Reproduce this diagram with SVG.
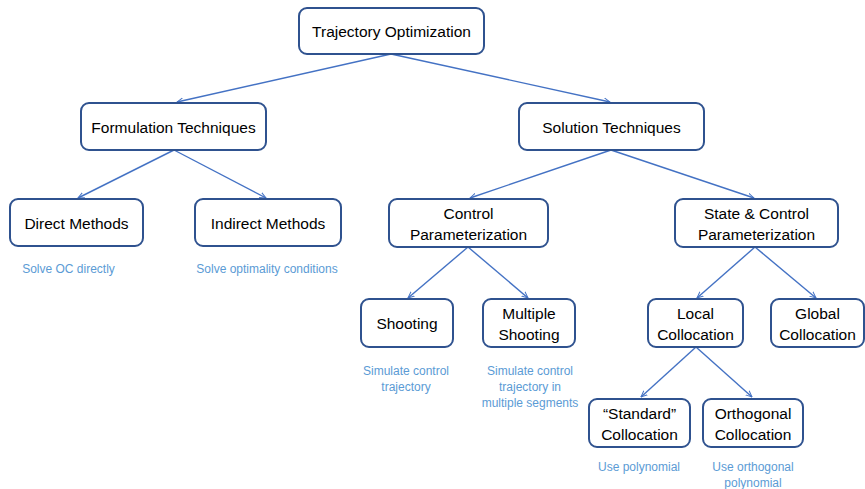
<svg xmlns="http://www.w3.org/2000/svg" width="865" height="489" viewBox="0 0 865 489">
<style>
.box{fill:#fff;stroke:#2F528F;stroke-width:2}
.t{font-family:"Liberation Sans",Arial,sans-serif;font-size:15.5px;fill:#000;text-anchor:middle}
.n{font-family:"Liberation Sans",Arial,sans-serif;font-size:12px;fill:#5B9BD5;text-anchor:middle}
.c{stroke:#4472C4;stroke-width:1.4;fill:none;marker-end:url(#a)}
</style>
<defs>
<marker id="a" viewBox="0 0 10 10" refX="9" refY="5" markerWidth="7" markerHeight="7" orient="auto" markerUnits="userSpaceOnUse">
<path d="M0,1 L9,5 L0,9" fill="none" stroke="#4472C4" stroke-width="1.4"/>
</marker>
</defs>
<g id="connectors">
<line class="c" x1="391" y1="54" x2="177" y2="102"/>
<line class="c" x1="391" y1="54" x2="610" y2="102"/>
<line class="c" x1="174" y1="150" x2="78" y2="198"/>
<line class="c" x1="174" y1="150" x2="266" y2="198"/>
<line class="c" x1="611" y1="150" x2="470" y2="198"/>
<line class="c" x1="611" y1="150" x2="754" y2="198"/>
<line class="c" x1="468" y1="247" x2="408" y2="298"/>
<line class="c" x1="468" y1="247" x2="528" y2="298"/>
<line class="c" x1="755" y1="247" x2="697" y2="298"/>
<line class="c" x1="755" y1="247" x2="816" y2="298"/>
<line class="c" x1="696" y1="347" x2="641" y2="397"/>
<line class="c" x1="696" y1="347" x2="752" y2="397"/>
</g>
<g id="trajectory"><rect class="box" x="299" y="8" width="185" height="46" rx="8"/><text class="t" x="391.5" y="36.5">Trajectory Optimization</text></g>
<g id="formulation"><rect class="box" x="81" y="103" width="185" height="47" rx="8"/><text class="t" x="173.5" y="132.5">Formulation Techniques</text></g>
<g id="solution"><rect class="box" x="519" y="103" width="185" height="47" rx="8"/><text class="t" x="611.5" y="132.5">Solution Techniques</text></g>
<g id="direct"><rect class="box" x="10" y="199" width="133" height="47" rx="8"/><text class="t" x="76.5" y="228.5">Direct Methods</text><text class="n" x="68.5" y="273">Solve OC directly</text></g>
<g id="indirect"><rect class="box" x="195" y="199" width="146" height="47" rx="8"/><text class="t" x="268" y="228.5">Indirect Methods</text><text class="n" x="267" y="273">Solve optimality conditions</text></g>
<g id="control"><rect class="box" x="389" y="199" width="159" height="48" rx="8"/><text class="t" x="468.5" y="218.5">Control</text><text class="t" x="468.5" y="239.5">Parameterization</text></g>
<g id="statecontrol"><rect class="box" x="675" y="199" width="163" height="48" rx="8"/><text class="t" x="756.5" y="218.5">State &amp; Control</text><text class="t" x="756.5" y="239.5">Parameterization</text></g>
<g id="shooting"><rect class="box" x="361" y="299" width="92" height="48" rx="8"/><text class="t" x="407" y="328.5">Shooting</text><text class="n" x="406" y="375">Simulate control</text><text class="n" x="406" y="391">trajectory</text></g>
<g id="multiple"><rect class="box" x="483" y="299" width="92" height="48" rx="8"/><text class="t" x="529" y="318.5">Multiple</text><text class="t" x="529" y="339.5">Shooting</text><text class="n" x="530" y="375">Simulate control</text><text class="n" x="530" y="391">trajectory in</text><text class="n" x="530" y="407">multiple segments</text></g>
<g id="local"><rect class="box" x="648" y="299" width="95" height="48" rx="8"/><text class="t" x="695.5" y="318.5">Local</text><text class="t" x="695.5" y="339.5">Collocation</text></g>
<g id="global"><rect class="box" x="771" y="299" width="93" height="48" rx="8"/><text class="t" x="817.5" y="318.5">Global</text><text class="t" x="817.5" y="339.5">Collocation</text></g>
<g id="standard"><rect class="box" x="589" y="399" width="101" height="48" rx="8"/><text class="t" x="639.5" y="418.5">“Standard”</text><text class="t" x="639.5" y="439.5">Collocation</text><text class="n" x="639" y="471">Use polynomial</text></g>
<g id="orthogonal"><rect class="box" x="703" y="399" width="100" height="48" rx="8"/><text class="t" x="753" y="418.5">Orthogonal</text><text class="t" x="753" y="439.5">Collocation</text><text class="n" x="753" y="471">Use orthogonal</text><text class="n" x="753" y="487">polynomial</text></g>
</svg>
